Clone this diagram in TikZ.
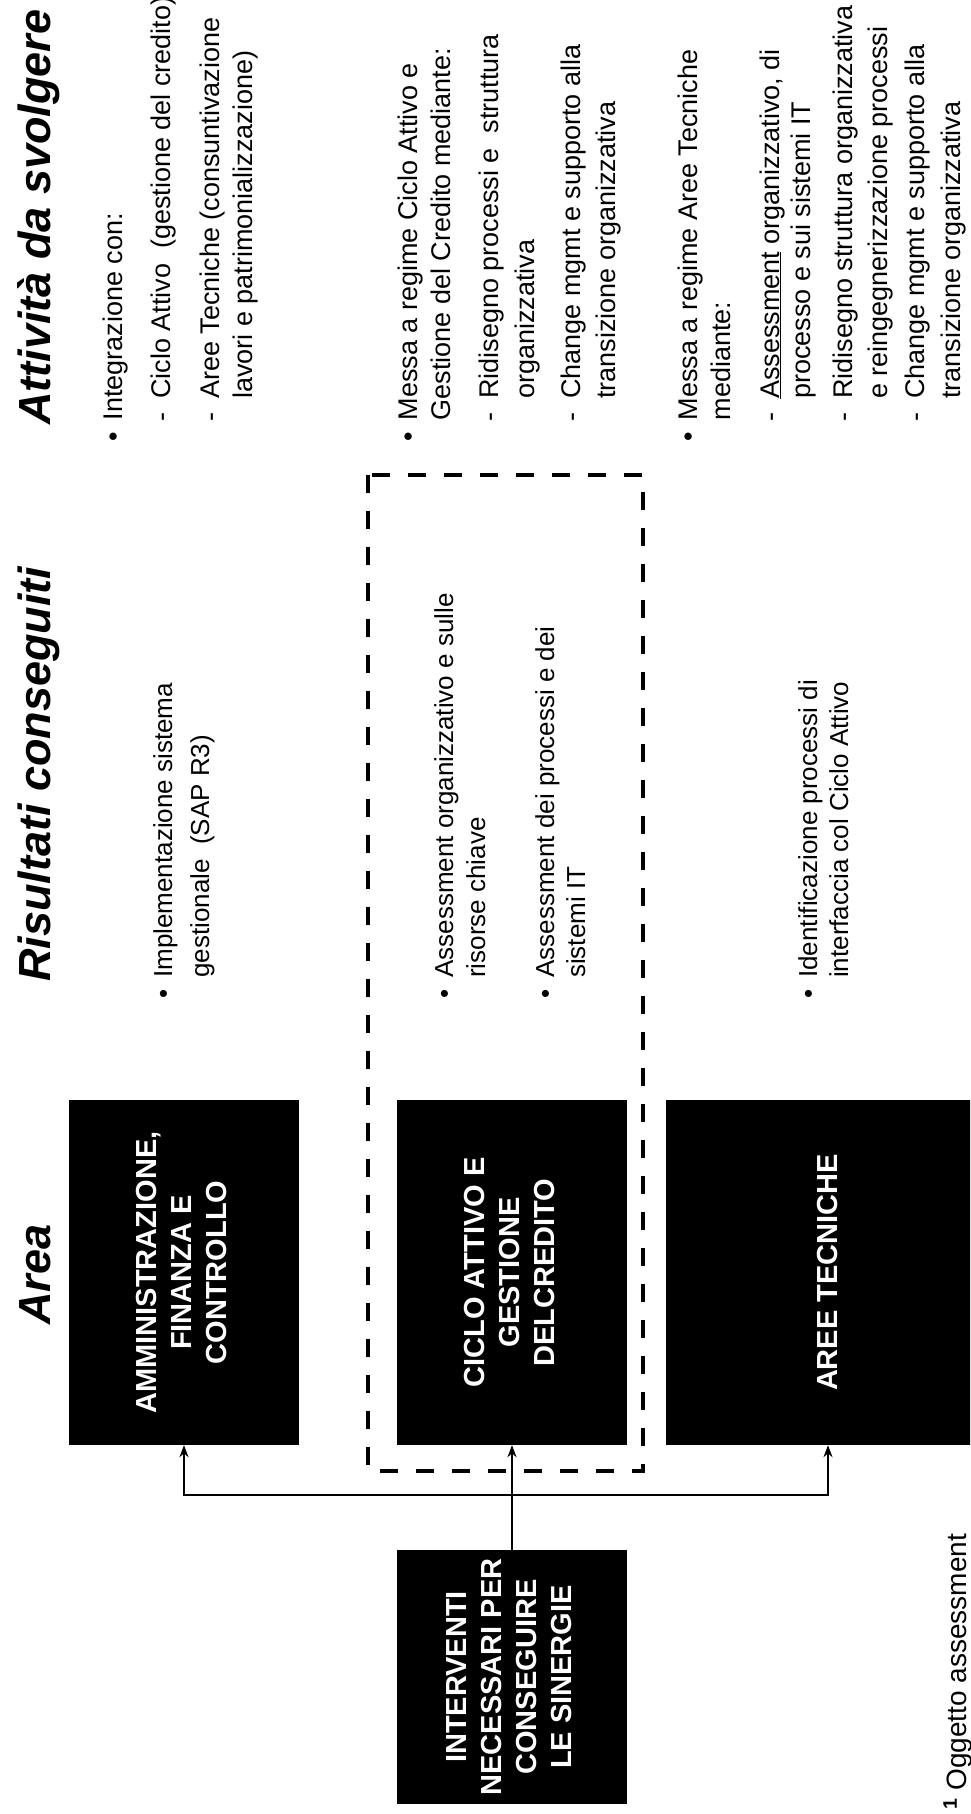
\documentclass[tikz,border=0pt]{standalone}
\usepackage{fontspec}
\setmainfont{Liberation Sans}
\usetikzlibrary{arrows.meta,positioning}
\newcommand{\bul}{\textbullet\hspace{12pt}}
\newcommand{\trat}{-\hspace{14pt}}

\begin{document}
\begin{tikzpicture}[x=1pt,y=-1pt,
    blk/.style={fill=black,text=white,inner sep=0pt,
      font=\fontsize{29}{35}\selectfont\bfseries},
    hdr/.style={rotate=90,anchor=base west,inner sep=0pt,
      font=\fontsize{45}{54}\selectfont\bfseries\itshape},
    txt/.style={rotate=90,anchor=base west,inner sep=0pt,
      font=\fontsize{27}{33}\selectfont},
    res/.style={txt,font=\fontsize{26}{32}\selectfont},
    arr/.style={-{Stealth[length=12pt,width=9pt]},line width=1.4pt},
    dashbox/.style={line width=3.2pt,dash pattern=on 18pt off 18pt}]
  \useasboundingbox (0,0) rectangle (970,1814);
  \clip (0,0) rectangle (970,1814);

  % titoli
  \node[hdr] (hatt) at (50,425) {Attività da svolgere};
  \node[hdr] (hris) at (50,982) {Risultati conseguiti};
  \node[hdr] (hare) at (50,1325) {Area};

  % aree
  \node[blk,minimum width=230pt,minimum height=345pt] (amm) at (184,1272.5)
    {\rotatebox{90}{\begin{tabular}{@{}c@{}}AMMINISTRAZIONE,\\FINANZA E\\CONTROLLO\end{tabular}}};
  \node[blk,minimum width=230pt,minimum height=345pt] (cic) at (512,1272.5)
    {\rotatebox{90}{\begin{tabular}{@{}c@{}}CICLO ATTIVO E\\GESTIONE\\DELCREDITO\end{tabular}}};
  \node[blk,minimum width=324pt,minimum height=345pt] (are) at (828,1272.5)
    {\rotatebox{90}{AREE TECNICHE}};
  \node[blk,minimum width=230pt,minimum height=254pt] (int) at (512,1677)
    {\rotatebox{90}{\begin{tabular}{@{}c@{}}INTERVENTI\\NECESSARI PER\\CONSEGUIRE\\LE SINERGIE\end{tabular}}};

  \draw[dashbox] (368,475) rectangle (643,1471);

  % collegamenti
  \coordinate (bus) at (512,1495);
  \draw[arr,line width=2pt] (int.north) -- (cic.south);
  \draw[arr] (bus) -| (amm.south);
  \draw[arr] (bus) -| (are.south);

  % risultati conseguiti
  \foreach \x/\y/\t [count=\i] in {172/999/{\bul Implementazione sistema},
      209/978/{gestionale\ \ (SAP R3)},
      453/999/{\bul Assessment organizzativo e sulle},
      485/978/{risorse chiave},
      554/999/{\bul Assessment dei processi e dei},
      585/978/{sistemi IT},
      817/999/{\bul Identificazione processi di},
      848/978/{interfaccia col Ciclo Attivo}}
    \node[res] (ris\i) at (\x,\y) {\t};

  % attivita da svolgere
  \foreach \x/\y/\t [count=\i] in {122/442/{\bul Integrazione con:},
      170/422/{\trat Ciclo Attivo\ \ (gestione del credito)},
      219/422/{\trat Aree Tecniche (consuntivazione},
      252/399/{lavori e patrimonializzazione)},
      417/442/{\bul Messa a regime Ciclo Attivo e},
      450/420.5/{Gestione del Credito mediante:},
      498/422/{\trat Ridisegno processi e\ \ struttura},
      534/399/{organizzativa},
      580/422/{\trat Change mgmt e supporto alla},
      615/399/{transizione organizzativa},
      697/442/{\bul Messa a regime Aree Tecniche},
      730/420.5/{mediante:},
      779/422/{\trat \underline{Assessment} organizzativo, di},
      810/399/{processo e sui sistemi IT},
      852/422/{\trat Ridisegno struttura organizzativa},
      887/399/{e reingegnerizzazione processi},
      924/422/{\trat Change mgmt e supporto alla},
      960/399/{transizione organizzativa}}
    \node[txt] (att\i) at (\x,\y) {\t};

  \node[txt,font=\fontsize{28}{34}\selectfont] (nota) at (966,1810)
    {\textsuperscript{\textbf{1}} Oggetto assessment};
\end{tikzpicture}
\end{document}
